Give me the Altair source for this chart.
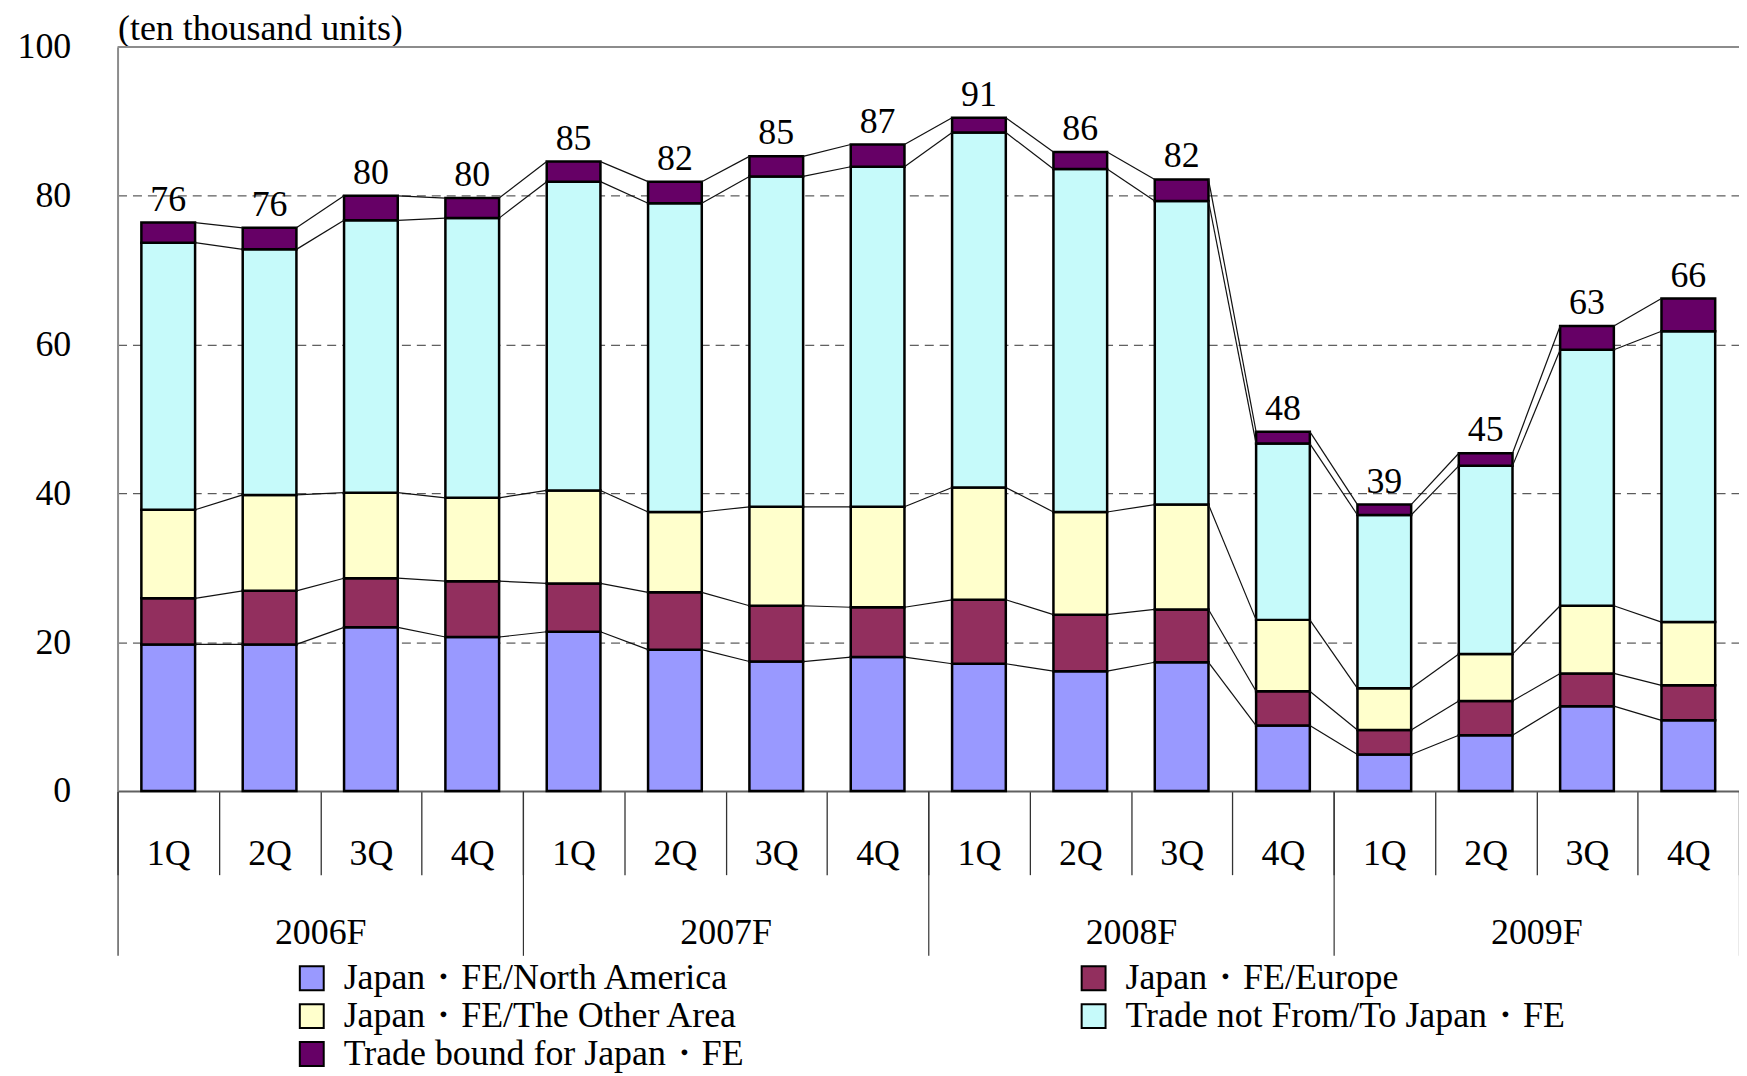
import altair as alt
import pandas as pd

# ---------------- data ----------------
years = ["2006F", "2007F", "2008F", "2009F"]
quarters = ["1Q", "2Q", "3Q", "4Q"]
series = [
    "Japan・FE/North America",
    "Japan・FE/Europe",
    "Japan・FE/The Other Area",
    "Trade not From/To Japan・FE",
    "Trade bound for Japan・FE",
]
colors = ["#9999FF", "#922F5E", "#FFFFCC", "#C6FAFA", "#660066"]

north_america = [19.7, 19.7, 22.0, 20.7, 21.4, 19.0, 17.4, 18.0, 17.1, 16.1, 17.3, 8.8, 4.9, 7.5, 11.4, 9.5]
europe = [6.2, 7.2, 6.6, 7.5, 6.5, 7.7, 7.5, 6.7, 8.6, 7.6, 7.1, 4.6, 3.3, 4.6, 4.4, 4.7]
other_area = [11.9, 12.9, 11.5, 11.2, 12.5, 10.8, 13.3, 13.5, 15.1, 13.8, 14.1, 9.6, 5.6, 6.3, 9.1, 8.5]
trade_not = [35.9, 33.0, 36.6, 37.6, 41.5, 41.5, 44.4, 45.7, 47.7, 46.1, 40.8, 23.7, 23.3, 25.3, 34.4, 39.1]
trade_bound = [2.7, 2.9, 3.3, 2.7, 2.7, 2.9, 2.7, 3.0, 2.0, 2.3, 2.9, 1.6, 1.4, 1.7, 3.2, 4.4]
total_labels = [76, 76, 80, 80, 85, 82, 85, 87, 91, 86, 82, 48, 39, 45, 63, 66]

y_ticks = [0, 20, 40, 60, 80, 100]

# ---------------- tables ----------------
keys = [f"{y} {q}" for y in years for q in quarters]
values = [north_america, europe, other_area, trade_not, trade_bound]

bar_rows = []
cums = []  # cumulative tops per series
running = [0.0] * len(keys)
for s, vals in zip(series, values):
    tops = []
    for i, k in enumerate(keys):
        lo = running[i]
        hi = lo + vals[i]
        bar_rows.append({"key": k, "series": s, "lo": lo, "hi": hi})
        running[i] = hi
        tops.append(hi)
    cums.append(tops)
bars_df = pd.DataFrame(bar_rows)

rule_rows = []
for tops in cums:
    for i in range(len(keys) - 1):
        rule_rows.append({"k0": keys[i], "k1": keys[i + 1], "v0": tops[i], "v1": tops[i + 1]})
rules_df = pd.DataFrame(rule_rows)

labels_df = pd.DataFrame({"key": keys, "top": cums[-1], "label": total_labels})
years_df = pd.DataFrame({"year": years})
border_df = pd.DataFrame({"v": [100]})

# ---------------- layout / style ----------------
FONT = "Liberation Serif"
W, H = 1628, 747
step = W / len(keys)
bar_frac = 0.53
half = step * bar_frac / 2

xscale = alt.Scale(domain=keys, paddingInner=0, paddingOuter=0)
yscale = alt.Scale(domain=[0, 100], nice=False, zero=True)

y_axis = alt.Axis(
    values=y_ticks, format="d", ticks=False, tickSize=0, labelPadding=47,
    labelFont=FONT, labelFontSize=36, labelColor="black",
    domainColor="#8c8c8c", domainWidth=2,
    grid=True, gridColor="#333333", gridDash=[9, 6], gridWidth=1,
    title="(ten thousand units)", titleAngle=0, titleX=0, titleY=-8,
    titleAlign="left", titleBaseline="alphabetic", titleFont=FONT,
    titleFontSize=36, titleFontWeight="normal", titleColor="black",
)

q_axis = alt.Axis(
    orient="bottom", title=None, labelExpr="split(datum.label, ' ')[1]",
    tickBand="extent", tickSize=84, tickColor="#333333", tickWidth=1.3,
    labelPadding=-21, labelBaseline="middle", labelAngle=0,
    labelFont=FONT, labelFontSize=36, labelColor="black",
    domainColor="#606060", domainWidth=2, grid=False,
)

bars = alt.Chart(bars_df).mark_bar(
    width=alt.RelativeBandSize(band=bar_frac), stroke="black", strokeWidth=2.5
).encode(
    x=alt.X("key:N", scale=xscale, axis=q_axis, sort=keys),
    y=alt.Y("lo:Q", scale=yscale, axis=y_axis, stack=False),
    y2="hi:Q",
    color=alt.Color(
        "series:N",
        scale=alt.Scale(domain=series, range=colors),
        legend=alt.Legend(
            title=None, orient="none", direction="horizontal",
            legendX=177, legendY=917, columns=2,
            columnPadding=333, rowPadding=2, padding=0,
            symbolType="square", symbolSize=576, symbolStrokeColor="black",
            symbolStrokeWidth=2, labelOffset=14, labelLimit=2000,
            labelFont=FONT, labelFontSize=36, labelColor="black",
        ),
    ),
)

rules = alt.Chart(rules_df).mark_rule(
    color="#111111", strokeWidth=1.2, xOffset=half, x2Offset=-half
).encode(
    x=alt.X("k0:N", scale=xscale, axis=q_axis, sort=keys),
    x2="k1",
    y=alt.Y("v0:Q", scale=yscale, axis=y_axis),
    y2="v1:Q",
)

labels = alt.Chart(labels_df).mark_text(
    font=FONT, fontSize=36, color="black", baseline="alphabetic", dy=-12
).encode(
    x=alt.X("key:N", scale=xscale, axis=q_axis, sort=keys),
    y=alt.Y("top:Q", scale=yscale, axis=y_axis),
    text="label:N",
)

border = alt.Chart(border_df).mark_rule(color="#8c8c8c", strokeWidth=2).encode(
    y=alt.Y("v:Q", scale=yscale, axis=y_axis)
)

year_layer = alt.Chart(years_df).mark_point(opacity=0).encode(
    x=alt.X(
        "year:N",
        scale=alt.Scale(domain=years, paddingInner=0, paddingOuter=0),
        axis=alt.Axis(
            orient="bottom", title=None, tickBand="extent", tickSize=165,
            tickColor="#333333", tickWidth=1.2, labelPadding=-23,
            labelBaseline="middle", labelAngle=0, labelFont=FONT,
            labelFontSize=36, labelColor="black", domain=False, grid=False,
        ),
    )
)

main = alt.layer(bars, rules, labels, border)

chart = alt.layer(main, year_layer).resolve_scale(x="independent").properties(
    width=W,
    height=H,
    autosize=alt.AutoSizeParams(type="none"),
    padding={"left": 110, "top": 37, "right": 0, "bottom": 284},
    background="white",
).configure_view(stroke=None)

chart.save("out.html", embed_options={"renderer": "svg", "actions": False})
